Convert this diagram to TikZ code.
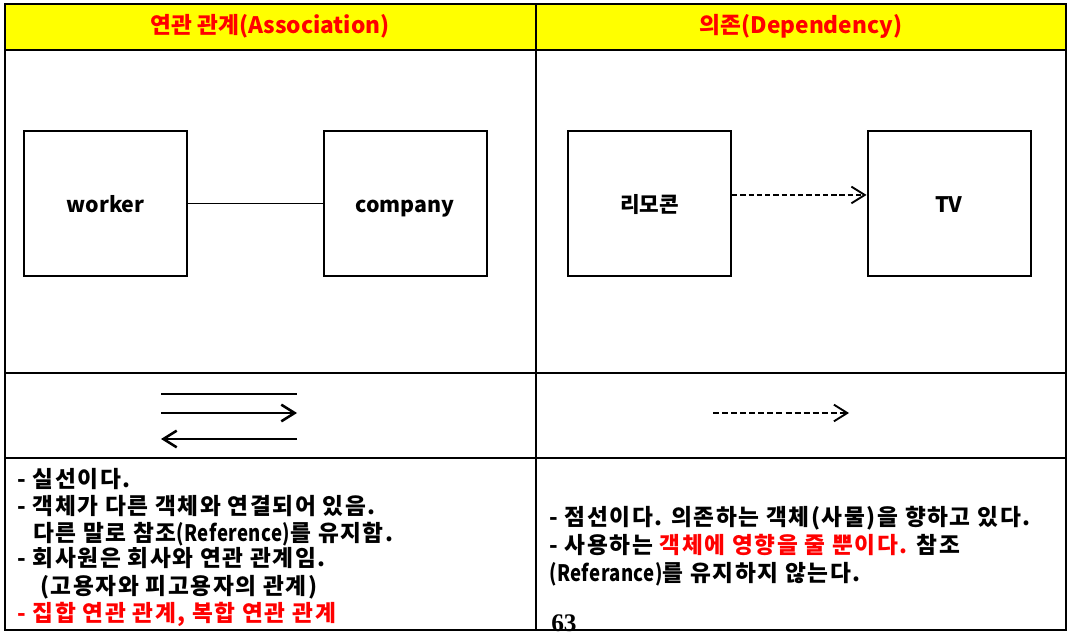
\documentclass[tikz,border=0pt]{standalone}
\usepackage{fontspec}
\setmainfont{Noto Sans CJK KR}
\newfontfamily\bodyfont{Noto Sans CJK KR}[LetterSpace=7]
\newfontfamily\latfont{Noto Sans CJK KR}[FakeStretch=0.82, LetterSpace=2]
\newfontfamily\numfont{Liberation Serif}
\newcommand{\lat}[1]{{\latfont #1}}
\usetikzlibrary{arrows.meta}
\definecolor{hdryellow}{RGB}{255,255,0}
\definecolor{hdrred}{RGB}{255,0,0}
\tikzset{
  gridline/.style={line width=1.2pt, draw=black},
  umlbox/.style={draw, line width=1.5pt, minimum width=122.25pt, minimum height=108.75pt, inner sep=0pt,
    text height=18pt, text depth=4pt, font=\fontsize{16pt}{18pt}\selectfont\bfseries},
  hdr/.style={font=\fontsize{17pt}{20pt}\selectfont\bfseries, text=hdrred, inner sep=0pt},
  body/.style={font=\bodyfont\fontsize{17pt}{20pt}\selectfont\bfseries, anchor=base west, inner sep=0pt},
  sym/.style={line width=1.9pt},
  barb/.style={-{Straight Barb[length=10pt,width=12.5pt,line width=1.9pt]}},
  dashbarb/.style={-{Straight Barb[length=10pt,width=12.5pt,line width=1.4pt]}},
}
\begin{document}
\begin{tikzpicture}[x=0.75pt,y=-0.75pt]
\useasboundingbox (0,0) rectangle (1074,634);
% header background
\fill[hdryellow] (5,4) rectangle (1066,50);
% table grid
\draw[gridline] (5,4) rectangle (1066,630);
\draw[gridline] (5,50) -- (1066,50);
\draw[gridline] (5,373) -- (1066,373);
\draw[gridline] (5,458) -- (1066,458);
\draw[gridline] (536,4) -- (536,630);
% headers
\node[hdr] (h1) at (270,26) {연관 관계(Association)};
\node[hdr] (h2) at (801,26) {의존(Dependency)};
% association boxes
\node[umlbox] (wk) at (105.5,203.5) {worker};
\node[umlbox] (co) at (405,203.5) {company};
\draw[line width=1.3pt] (wk) -- (co);
% dependency boxes
\node[umlbox] (rm) at (649.5,203.5) {리모콘};
\node[umlbox] (tv) at (949,203.5) {TV};
\draw[line width=1.3pt, dash pattern=on 4pt off 2.2pt, dashbarb] ([yshift=6.4pt]rm.east) -- ([yshift=6.4pt]tv.west);
% notation symbols
\coordinate (a1) at (161,394); \coordinate (b1) at (297,394);
\coordinate (a2) at (161,413); \coordinate (b2) at (297,413);
\coordinate (a3) at (297,439); \coordinate (b3) at (161,439);
\draw[sym] (a1) -- (b1);
\draw[sym, barb] (a2) -- (b2);
\draw[sym, barb] (a3) -- (b3);
\coordinate (d1) at (713,413); \coordinate (d2) at (849,413);
\draw[line width=1.6pt, dash pattern=on 4.5pt off 2.3pt, dashbarb] (d1) -- (d2);
% left text
\node[body] (t1) at (17,487) {- 실선이다.};
\node[body] (t2) at (17,514) {- 객체가 다른 객체와 연결되어 있음.};
\node[body] (t3) at (33,541) {다른 말로 참조\lat{(Reference)}를 유지함.};
\node[body] (t4) at (17,566) {- 회사원은 회사와 연관 관계임.};
\node[body] (t5) at (40,594) {(고용자와 피고용자의 관계)};
\node[body, text=hdrred] (t6) at (17,621) {- 집합 연관 관계, 복합 연관 관계};
% right text
\node[body] (r1) at (549,525) {- 점선이다. 의존하는 객체(사물)을 향하고 있다.};
\node[body] (r2) at (549,553) {- 사용하는 \textcolor{hdrred}{객체에 영향을 줄 뿐이다.} 참조};
\node[body] (r3) at (549,581) {\lat{(Referance)}를 유지하지 않는다.};
% page number
\node[anchor=base west, inner sep=0pt, font=\numfont\fontsize{19pt}{20pt}\selectfont\bfseries] (pg) at (551,631) {63};
\end{tikzpicture}
\end{document}
